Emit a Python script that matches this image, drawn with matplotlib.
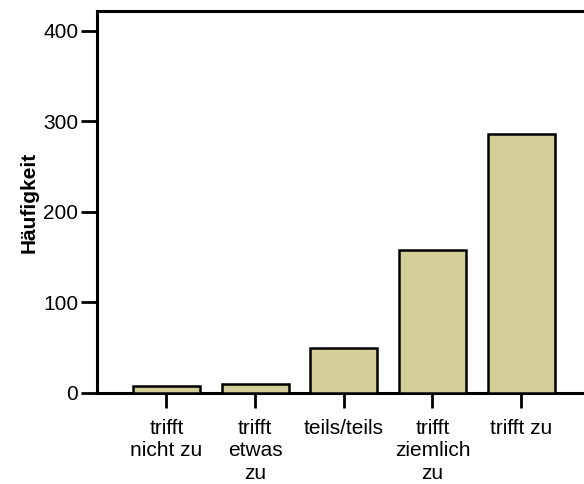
import matplotlib
matplotlib.use("Agg")
import matplotlib.pyplot as plt

categories = ["trifft\nnicht zu", "trifft\netwas\nzu", "teils/teils", "trifft\nziemlich\nzu", "trifft zu"]
counts = [8, 10, 50, 158, 286]
yticks = [0, 100, 200, 300, 400]

plt.rcParams['font.family'] = ['Liberation Sans', 'DejaVu Sans']

fig = plt.figure(figsize=(5.84, 4.84), dpi=100)
ax = fig.add_axes([97 / 584, 91 / 484, 1 - 97 / 584, 382 / 484])

x = list(range(len(categories)))
ax.bar(x, counts, width=0.756, color="#d3ce97", edgecolor="black", linewidth=1.8, zorder=3)

ax.set_xlim(-0.784, 4.71)
ax.set_ylim(0, 422)
ax.set_yticks(yticks)
ax.set_xticks(x)
ax.set_xticklabels(categories, fontsize=15, linespacing=1.25)
ax.tick_params(axis='y', labelsize=15, length=11.5, width=2, pad=2)
ax.tick_params(axis='x', length=10.5, width=2, pad=8)

for side in ["left", "bottom", "top"]:
    ax.spines[side].set_linewidth(2.2)
ax.spines["right"].set_visible(False)

ax.set_ylabel("Häufigkeit", fontsize=15, fontweight="bold", labelpad=3)

fig.savefig("out.png", dpi=100)
